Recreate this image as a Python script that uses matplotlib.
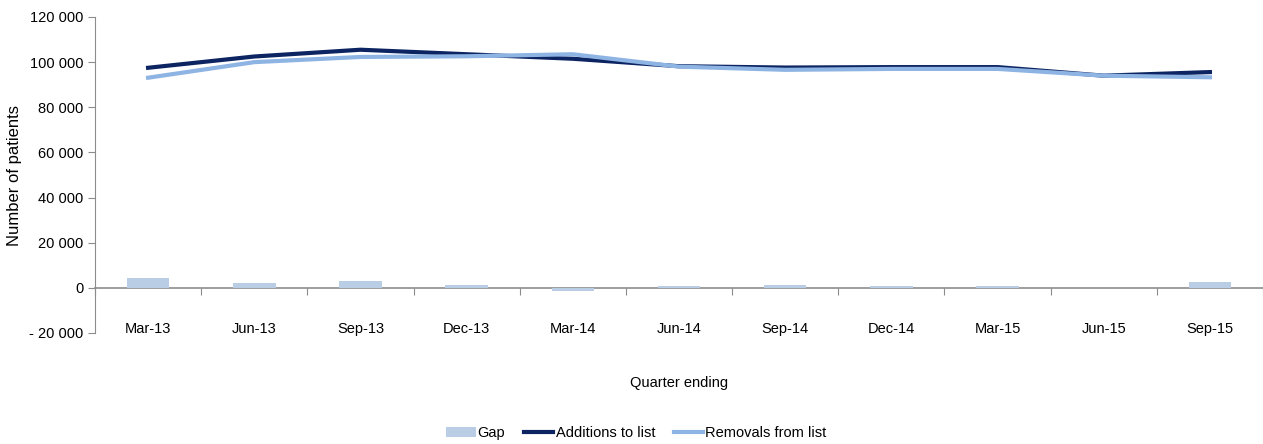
"""Additions to and removals from the list, by quarter, with the gap between them."""

import matplotlib
matplotlib.use("Agg")
import matplotlib.pyplot as plt
from matplotlib.ticker import FuncFormatter

plt.rcParams['font.family'] = ['Liberation Sans', 'DejaVu Sans']

quarters = ['Mar-13', 'Jun-13', 'Sep-13', 'Dec-13', 'Mar-14', 'Jun-14',
            'Sep-14', 'Dec-14', 'Mar-15', 'Jun-15', 'Sep-15']
additions = [97500, 102500, 105500, 103500, 101500, 98200,
             97600, 97800, 97800, 94000, 95600]
removals = [93100, 100000, 102300, 102600, 103500, 98000,
            96600, 97000, 97000, 94000, 93300]
gap = [4500, 2000, 3200, 1400, -1600, 900, 1400, 900, 900, -200, 2600]

c_gap = '#b9cde5'
c_add = '#0c2461'
c_rem = '#8eb4e3'
c_axis = '#8c8c8c'


def fmt_thousands(v, pos):
    s = f"{abs(int(v)):,}".replace(',', ' ')
    return f"- {s}" if v < 0 else s


fig = plt.figure(figsize=(12.63, 4.44), dpi=100)
ax = fig.add_axes([95 / 1263, 1 - 333 / 444, 1 - 95 / 1263, (333 - 17) / 444])

x = list(range(len(quarters)))
bars = ax.bar(x, gap, width=0.4, color=c_gap, label='Gap', zorder=2)
l_add, = ax.plot(x, additions, color=c_add, linewidth=3, label='Additions to list', zorder=3)
l_rem, = ax.plot(x, removals, color=c_rem, linewidth=3, label='Removals from list', zorder=4)

ax.set_xlim(-0.5, len(quarters) - 0.5)
ax.set_ylim(-20000, 120000)
ax.set_yticks(range(-20000, 120001, 20000))
ax.yaxis.set_major_formatter(FuncFormatter(fmt_thousands))

for side in ['top', 'right', 'bottom']:
    ax.spines[side].set_visible(False)
ax.spines['left'].set_color(c_axis)
ax.tick_params(axis='y', colors=c_axis, length=5, labelcolor='black', labelsize=10.5)

# category labels sit at the bottom of the plot
ax.set_xticks(x)
ax.set_xticklabels(quarters)
ax.tick_params(axis='x', length=0, pad=-8, labelsize=10.5)

# zero line with ticks between categories
zero_pos = 20000 / 140000
sec = ax.secondary_xaxis(zero_pos)
sec.set_xticks([i - 0.5 for i in range(len(quarters) + 1)])
sec.set_xticklabels([])
sec.spines['bottom'].set_color(c_axis)
sec.spines['bottom'].set_linewidth(1.2)
sec.tick_params(axis='x', colors=c_axis, length=5, direction='out')

ax.set_xlabel('Quarter ending', fontsize=10.5, labelpad=29)
ax.set_ylabel('Number of patients', fontsize=12, labelpad=5)

fig.legend([bars, l_add, l_rem], ['Gap', 'Additions to list', 'Removals from list'],
           loc='center', bbox_to_anchor=(0.504, 0.025), ncol=3, frameon=False,
           fontsize=10.5, handlelength=2.0, handletextpad=0.15, columnspacing=1.3)

fig.savefig('out.png', dpi=100)
